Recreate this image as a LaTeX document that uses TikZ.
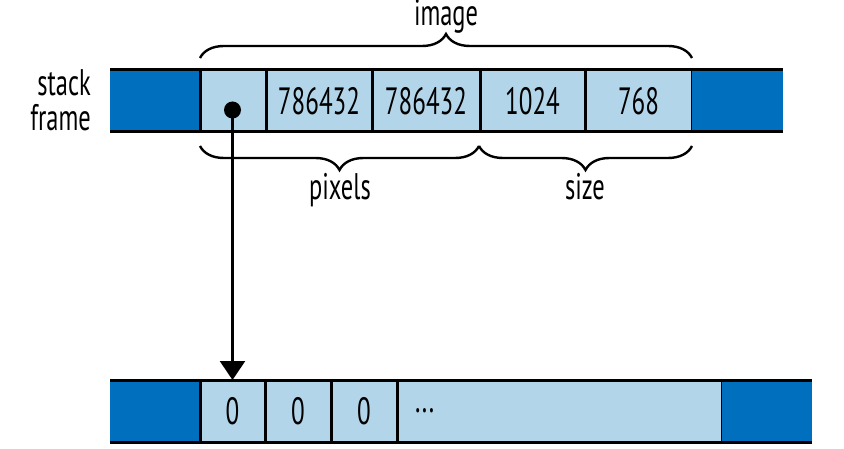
\documentclass[tikz,border=0pt]{standalone}
\usepackage{fontspec}
\setmainfont[FakeStretch=0.66]{PT Sans}
\usetikzlibrary{positioning,decorations.pathreplacing,arrows.meta}
\definecolor{darkcell}{HTML}{0070BE}
\definecolor{lightcell}{HTML}{B3D5EA}

\begin{document}
\begin{tikzpicture}[x=1pt,y=-1pt,
        cell/.style={draw, line width=3pt, fill=lightcell, minimum height=62pt,
            inner sep=0pt, outer sep=0pt, font=\fontsize{38}{35}\selectfont},
        darkcell/.style={fill=darkcell, minimum height=62pt, inner sep=0pt, outer sep=0pt},
        bracket/.style={decorate, decoration={brace, amplitude=24pt}, line width=2.4pt},
        label/.style={font=\fontsize{37}{35}\selectfont, anchor=base, inner sep=0pt}]
        \useasboundingbox (0,0) rectangle (844,449);

        % Stack frame
        \node[darkcell, minimum width=90pt] (sleft) at (155,101) {};
        \node[cell, minimum width=66pt, right=0pt of sleft] (ptr) {};
        \node[cell, minimum width=106pt, right=0pt of ptr] (len) {786432};
        \node[cell, minimum width=108pt, right=0pt of len] (cap) {786432};
        \node[cell, minimum width=105pt, right=0pt of cap] (width) {1024};
        \node[cell, minimum width=107pt, right=0pt of width] (height) {768};
        \node[darkcell, minimum width=91pt, right=0pt of height] (sright) {};
        \draw[line width=3pt] (sleft.north west) -- (sright.north east);
        \draw[line width=3pt] (sleft.south west) -- (sright.south east);
        \node[label, align=right, anchor=east] (frame) at (91,100) {stack\\frame};

        % Braces
        \draw[bracket] (200,58) -- (692,58);
        \node[label] (image) at (446,26) {image};
        \draw[bracket] (479,146) -- (200,146);
        \node[label] (pixels) at (340,200) {pixels};
        \draw[bracket] (692,146) -- (479,146);
        \node[label] (size) at (585,200) {size};

        % Heap buffer
        \node[darkcell, minimum width=90pt] (hleft) at (155,411) {};
        \node[cell, minimum width=65pt, right=0pt of hleft] (z1) {0};
        \node[cell, minimum width=66pt, right=0pt of z1] (z2) {0};
        \node[cell, minimum width=66pt, right=0pt of z2] (z3) {0};
        \node[cell, minimum width=325pt, text width=289pt, inner xsep=18pt,
            align=left, right=0pt of z3] (rest) {...};
        \node[darkcell, minimum width=90pt, right=0pt of rest] (hright) {};
        \draw[line width=3pt] (hleft.north west) -- (hright.north east);
        \draw[line width=3pt] (hleft.south west) -- (hright.south east);

        % Pointer
        \node[circle, fill, minimum size=17pt, inner sep=0pt] (dot) at (z1.center |- 0,110) {};
        \draw[-{Triangle[width=25pt,length=19pt]}, line width=2.5pt] (dot.center) -- (z1.north);
\end{tikzpicture}
\end{document}
